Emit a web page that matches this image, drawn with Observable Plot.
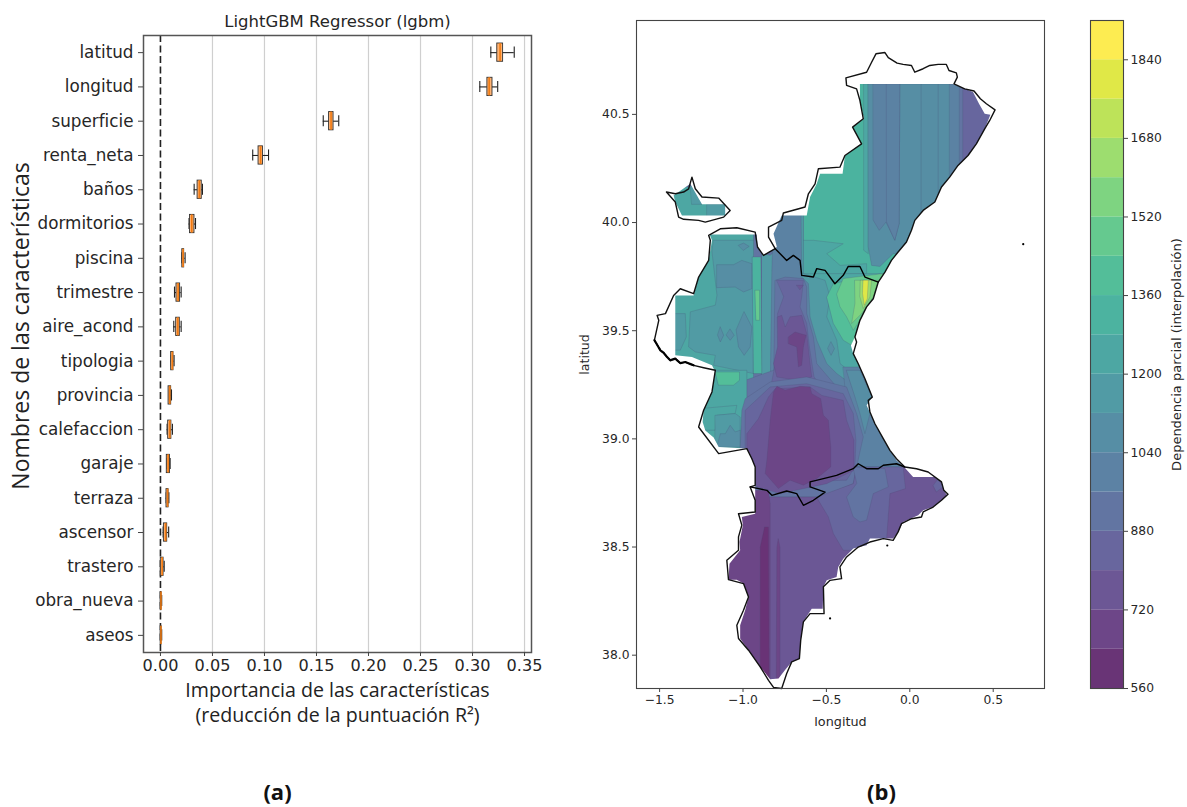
<!DOCTYPE html>
<html lang="es">
<head>
<meta charset="utf-8">
<title>LightGBM Regressor (lgbm)</title>
<script src="https://cdn.jsdelivr.net/npm/d3@7"></script>
<script src="https://cdn.jsdelivr.net/npm/@observablehq/plot@0.6"></script>
<style>
html,body{margin:0;padding:0;background:#fff;width:1187px;height:807px;overflow:hidden}
</style>
</head>
<body>
<script>
// ---------- panel (a): permutation importance ----------
const features = ["latitud","longitud","superficie","renta_neta","baños","dormitorios","piscina","trimestre","aire_acond","tipologia","provincia","calefaccion","garaje","terraza","ascensor","trastero","obra_nueva","aseos"];
const whiskLow  = [.3176,.307,.1565,.0887,.0324,.0275,.0205,.0135,.0128,.0103,.0078,.0064,.0061,.0055,.0026,0,0,0];
const q1        = [.3238,.3143,.1621,.0943,.0357,.0284,.021,.0154,.0151,.0103,.0078,.0074,.0061,.0058,.0033,.0003,.0002,.0002];
const medians   = [.3265,.316,.164,.0963,.0374,.0301,.0218,.017,.0167,.0115,.009,.009,.0074,.0069,.005,.0017,.0005,.0005];
const q3        = [.3294,.3192,.1664,.0986,.0397,.0327,.0228,.0189,.0186,.0125,.0103,.0105,.0091,.0078,.0065,.003,.001,.001];
const whiskHigh = [.3401,.3242,.1714,.1039,.0404,.0337,.0237,.0199,.0199,.0131,.0106,.0115,.0093,.0081,.0079,.0036,.0012,.0012];
const importanceTicks = [0,.05,.1,.15,.2,.25,.3,.35];

// ---------- panel (b): outline of the region (lon, lat) ----------
const outlineMain = [[-.203,40.78],[-.149,40.786],[-.129,40.762],[-.076,40.737],[-.04,40.731],[.01,40.726],[.03,40.695],[.08,40.711],[.12,40.726],[.17,40.731],[.219,40.731],[.235,40.703],[.279,40.692],[.285,40.672],[.265,40.641],[.329,40.618],[.385,40.608],[.423,40.572],[.459,40.549],[.511,40.521],[.479,40.472],[.449,40.433],[.399,40.364],[.349,40.31],[.289,40.264],[.239,40.21],[.19,40.164],[.15,40.095],[.08,40.056],[.03,40.01],[.01,39.964],[-.02,39.91],[-.07,39.864],[-.11,39.825],[-.149,39.771],[-.189,39.725],[-.219,39.648],[-.259,39.61],[-.299,39.548],[-.329,39.471],[-.319,39.448],[-.339,39.394],[-.309,39.347],[-.269,39.278],[-.225,39.193],[-.249,39.178],[-.239,39.124],[-.209,39.07],[-.159,39.001],[-.119,38.947],[-.08,38.908],[-.03,38.87],[.04,38.862],[.11,38.847],[.19,38.801],[.204,38.762],[.229,38.744],[.19,38.716],[.14,38.685],[.08,38.662],[.07,38.639],[.01,38.631],[-.05,38.608],[-.07,38.57],[-.1,38.531],[-.159,38.539],[-.239,38.523],[-.309,38.5],[-.379,38.454],[-.419,38.408],[-.409,38.354],[-.478,38.346],[-.518,38.316],[-.514,38.192],[-.598,38.192],[-.638,38.154],[-.654,38.069],[-.662,37.984],[-.708,37.969],[-.738,37.915],[-.768,37.846],[-.817,37.851],[-.847,37.884],[-.897,37.946],[-.967,38.023],[-1.027,38.077],[-1.037,38.138],[-.997,38.208],[-.967,38.269],[-.997,38.331],[-1.087,38.349],[-1.097,38.439],[-1.027,38.485],[-1.027,38.547],[-1.007,38.601],[-1.027,38.654],[-.927,38.662],[-.927,38.716],[-.957,38.778],[-.927,38.785],[-.927,38.87],[-.947,38.908],[-.977,38.955],[-1.146,38.932],[-1.266,39.055],[-1.236,39.132],[-1.186,39.217],[-1.166,39.317],[-1.236,39.329],[-1.296,39.34],[-1.346,39.355],[-1.376,39.35],[-1.406,39.371],[-1.436,39.363],[-1.455,39.378],[-1.475,39.397],[-1.495,39.409],[-1.531,39.456],[-1.505,39.548],[-1.515,39.571],[-1.465,39.579],[-1.416,39.663],[-1.376,39.694],[-1.296,39.671],[-1.266,39.748],[-1.206,39.825],[-1.196,39.918],[-1.206,39.941],[-1.136,39.971],[-1.037,39.976],[-.927,39.956],[-.913,39.887],[-.877,39.848],[-.807,39.879],[-.847,39.933],[-.847,39.979],[-.768,40.01],[-.758,40.044],[-.628,40.072],[-.608,40.133],[-.568,40.179],[-.548,40.249],[-.419,40.256],[-.389,40.31],[-.289,40.364],[-.343,40.441],[-.279,40.48],[-.299,40.564],[-.319,40.618],[-.379,40.634],[-.383,40.669],[-.259,40.695],[-.229,40.741]];
const outlineAdemuz = [[-1.459,40.141],[-1.406,40.133],[-1.356,40.141],[-1.326,40.156],[-1.306,40.21],[-1.286,40.156],[-1.246,40.118],[-1.146,40.113],[-1.077,40.056],[-1.116,40.025],[-1.226,40.002],[-1.266,40.01],[-1.356,40.015],[-1.386,40.025],[-1.406,40.095]];
const borderNorth = [[-.807,39.879],[-.738,39.825],[-.698,39.848],[-.658,39.825],[-.648,39.756],[-.578,39.748],[-.558,39.787],[-.508,39.779],[-.449,39.717],[-.399,39.756],[-.369,39.797],[-.299,39.797],[-.269,39.748],[-.189,39.725]];
const borderSouth = [[-.957,38.778],[-.857,38.762],[-.827,38.739],[-.738,38.759],[-.678,38.747],[-.638,38.693],[-.578,38.716],[-.508,38.754],[-.598,38.778],[-.598,38.801],[-.518,38.816],[-.439,38.831],[-.339,38.862],[-.309,38.885],[-.259,38.862],[-.189,38.862],[-.159,38.878],[-.08,38.885],[-.03,38.87]];
const roughCoast = [[-1.296,39.34],[-1.346,39.355],[-1.376,39.35],[-1.406,39.371],[-1.436,39.363],[-1.455,39.378],[-1.475,39.397],[-1.495,39.409],[-1.531,39.456]];
const islets = [[.68,39.9],[-.478,38.17],[-.135,38.507]];

// area actually covered by the interpolated surface
const surfaceMain = [[-.299,40.641],[.259,40.641],[.379,40.603],[.415,40.549],[.449,40.503],[.483,40.498],[.449,40.433],[.399,40.364],[.349,40.31],[.289,40.264],[.239,40.21],[.19,40.164],[.15,40.095],[.08,40.056],[.03,40.01],[.01,39.964],[-.02,39.91],[-.07,39.864],[-.11,39.825],[-.149,39.771],[-.189,39.725],[-.219,39.648],[-.259,39.61],[-.299,39.548],[-.329,39.471],[-.353,39.432],[-.339,39.394],[-.309,39.347],[-.269,39.278],[-.225,39.193],[-.259,39.155],[-.209,39.07],[-.159,39.001],[-.119,38.947],[-.08,38.901],[-.03,38.867],[.02,38.824],[.15,38.824],[.19,38.801],[.204,38.762],[.223,38.739],[.19,38.716],[.14,38.685],[.08,38.67],[.05,38.647],[-.04,38.616],[-.07,38.57],[-.1,38.539],[-.239,38.539],[-.259,38.508],[-.339,38.493],[-.399,38.446],[-.429,38.408],[-.439,38.362],[-.498,38.346],[-.518,38.316],[-.522,38.215],[-.588,38.215],[-.638,38.154],[-.654,38.069],[-.662,37.984],[-.708,37.969],[-.748,37.931],[-.787,37.892],[-.837,37.889],[-.897,37.946],[-.967,38.023],[-1.017,38.077],[-1.017,38.138],[-.987,38.208],[-.967,38.269],[-.997,38.331],[-1.037,38.349],[-1.087,38.349],[-1.081,38.423],[-1.017,38.485],[-1.021,38.523],[-1.001,38.601],[-1.007,38.639],[-.927,38.654],[-.927,38.87],[-.947,38.908],[-.977,38.955],[-1.146,38.962],[-1.176,39.006],[-1.226,39.039],[-1.242,39.078],[-1.236,39.132],[-1.186,39.217],[-1.166,39.309],[-1.186,39.34],[-1.306,39.378],[-1.406,39.386],[-1.406,39.663],[-1.296,39.663],[-1.266,39.748],[-1.206,39.825],[-1.186,39.918],[-1.2,39.945],[-.917,39.945],[-.913,39.887],[-.877,39.848],[-.797,39.887],[-.817,39.948],[-.768,40.033],[-.618,40.033],[-.598,40.118],[-.558,40.179],[-.538,40.226],[-.403,40.226],[-.389,40.31],[-.289,40.364],[-.343,40.441],[-.275,40.48],[-.299,40.564]];
const surfaceAdemuz = [[-1.416,40.125],[-1.316,40.179],[-1.246,40.084],[-1.107,40.084],[-1.107,40.033],[-1.366,40.033],[-1.406,40.095]];

// ---------- panel (b): contour levels ----------
const levels = [560,640,720,800,880,960,1040,1120,1200,1280,1360,1440,1520,1600,1680,1760,1840,1920];
const colorbarTicks = [560,720,880,1040,1200,1360,1520,1680,1840];

// painted in order: each region holds [partial-dependence value, ring of lon/lat]
const contourRegions = [
 [920,[[-1.7,37.8],[.6,37.8],[.6,41],[-1.7,41]]],
 [1320,[[-.638,40.703],[.578,40.703],[.578,39.702],[-.638,39.702]]],
 [1240,[[-1.436,40.164],[-.977,40.164],[-.977,40.01],[-1.436,40.01]]],
 [1160,[[-1.216,40.084],[-1.097,40.084],[-1.097,40.025],[-1.216,40.025]]],
 [1160,[[-1.316,40.172],[-1.286,40.156],[-1.246,40.084],[-1.306,40.084]]],
 [1240,[[-.275,40.641],[-.249,40.641],[-.249,39.856],[-.275,39.871]]],
 [1080,[[-.249,40.641],[.578,40.641],[.578,39.825],[-.1,39.856],[-.179,39.797],[-.229,39.802],[-.249,39.887]]],
 [1000,[[-.219,40.641],[-.06,40.641],[-.064,39.995],[-.09,39.918],[-.143,40.002],[-.183,39.964],[-.219,40.01]]],
 [1000,[[-.139,40.641],[-.06,40.641],[-.064,39.995],[-.09,39.918],[-.139,40.002]]],
 [1100,[[.07,40.641],[.17,40.641],[.17,40.072],[.07,40.025]]],
 [1000,[[.239,40.641],[.578,40.641],[.578,40.21],[.239,40.21]]],
 [920,[[.299,40.641],[.578,40.641],[.578,40.21],[.299,40.21]]],
 [840,[[.319,40.641],[.578,40.641],[.578,40.21],[.319,40.21]]],
 [1240,[[-.638,39.918],[-.578,39.918],[-.399,39.902],[-.498,39.856],[-.418,39.802],[-.259,39.81],[-.259,39.764],[-.638,39.756]]],
 [1240,[[-1.46,39.97],[-.937,39.97],[-.937,39.163],[-1.46,39.163]]],
 [1160,[[-1.176,39.918],[-.937,39.918],[-.937,39.302],[-1.176,39.34],[-1.166,39.386],[-1.286,39.402],[-1.326,39.425],[-1.316,39.587],[-1.166,39.618],[-1.156,39.664],[-1.186,39.864]]],
 [1160,[[-1.416,39.579],[-1.346,39.579],[-1.34,39.471],[-1.376,39.41],[-1.416,39.41]]],
 [1080,[[-1.156,39.805],[-1.057,39.805],[-1.007,39.825],[-.947,39.81],[-.947,39.694],[-.997,39.679],[-1.047,39.702],[-1.156,39.699]]],
 [1080,[[-.993,39.587],[-.947,39.517],[-.957,39.425],[-.993,39.386],[-1.027,39.425],[-1.041,39.502]]],
 [1080,[[-1.136,39.517],[-1.116,39.479],[-1.136,39.448],[-1.152,39.479]]],
 [1080,[[-1.077,39.507],[-1.053,39.479],[-1.077,39.456],[-1.1,39.479]]],
 [1080,[[-1.027,39.895],[-.997,39.905],[-.963,39.89],[-.997,39.872]]],
 [1240,[[-.638,39.764],[-.159,39.764],[-.159,39.163],[-.638,39.163]]],
 [1160,[[-.887,39.856],[-.837,39.849],[-.777,39.887],[-.817,40.056],[-.638,40.056],[-.638,39.764],[-.508,39.733],[-.478,39.656],[-.498,39.564],[-.438,39.456],[-.418,39.348],[-.319,39.286],[-.219,39.179],[-.887,39.179]]],
 [1320,[[-.943,39.841],[-.893,39.841],[-.887,39.302],[-.937,39.302]]],
 [1480,[[-.927,39.687],[-.901,39.687],[-.901,39.548],[-.921,39.548]]],
 [1000,[[-.827,39.779],[-.817,40.041],[-.652,40.041],[-.648,39.748],[-.608,39.718],[-.598,39.564],[-.558,39.456],[-.498,39.348],[-.438,39.302],[-.329,39.24],[-.319,39.179],[-1.037,39.179],[-1.027,39.256],[-.837,39.302]]],
 [920,[[-.807,39.733],[-.747,39.748],[-.638,39.741],[-.618,39.702],[-.618,39.579],[-.578,39.471],[-.558,39.348],[-.438,39.24],[-.379,39.179],[-1.007,39.179],[-.987,39.271],[-.817,39.317]]],
 [840,[[-.797,39.733],[-.638,39.733],[-.648,39.656],[-.658,39.61],[-.618,39.533],[-.602,39.425],[-.574,39.286],[-.498,39.209],[-.478,39.179],[-.817,39.179],[-.837,39.225],[-.807,39.348],[-.787,39.425],[-.793,39.579],[-.757,39.656]]],
 [760,[[-.793,39.564],[-.768,39.571],[-.747,39.517],[-.718,39.564],[-.648,39.571],[-.618,39.487],[-.598,39.348],[-.588,39.286],[-.678,39.271],[-.797,39.286],[-.817,39.348],[-.793,39.425]]],
 [680,[[-.728,39.471],[-.688,39.494],[-.622,39.479],[-.638,39.425],[-.648,39.34],[-.668,39.333],[-.678,39.425],[-.728,39.44]]],
 [760,[[-.678,39.71],[-.638,39.71],[-.658,39.69]]],
 [1400,[[-.498,39.656],[-.458,39.718],[-.159,39.764],[-.159,39.579],[-.319,39.471],[-.349,39.433],[-.399,39.456],[-.458,39.533]]],
 [1480,[[-.438,39.671],[-.399,39.741],[-.159,39.764],[-.159,39.625],[-.299,39.548],[-.339,39.502],[-.379,39.564],[-.418,39.61]]],
 [1560,[[-.329,39.733],[-.189,39.733],[-.219,39.656],[-.289,39.579],[-.349,39.533],[-.329,39.625]]],
 [1640,[[-.295,39.733],[-.229,39.733],[-.239,39.656],[-.279,39.602],[-.299,39.656]]],
 [1800,[[-.279,39.733],[-.249,39.733],[-.255,39.648],[-.273,39.618],[-.283,39.671]]],
 [1080,[[-.472,39.448],[-.452,39.417],[-.472,39.386],[-.492,39.417]]],
 [1240,[[-1.336,39.317],[-.977,39.317],[-.977,38.947],[-1.336,38.947]]],
 [1400,[[-1.166,39.309],[-1.021,39.309],[-1.021,39.271],[-1.057,39.248],[-1.146,39.248]]],
 [1240,[[-1.256,39.14],[-1.037,39.155],[-1.047,39.117],[-1.156,39.109],[-1.166,39.04],[-1.24,39.04]]],
 [1160,[[-1.166,39.109],[-1.047,39.117],[-1.017,39.101],[-1.017,38.963],[-1.166,38.963]]],
 [1080,[[-1.156,38.963],[-1.136,39.024],[-1.106,39.024],[-1.077,39.063],[-1.047,39.032],[-1.017,39.04],[-1.017,38.963]]],
 [1000,[[-.399,39.332],[-.299,39.332],[-.219,39.178],[-.159,39.001],[-.02,38.87],[-.339,38.87]]],
 [1090,[[-.329,39.194],[-.299,39.117],[-.269,39.024],[-.239,39.117],[-.219,39.178],[-.299,39.317],[-.379,39.317]]],
 [920,[[-1.017,38.955],[-1.007,39.132],[-.987,39.186],[-.837,39.263],[-.618,39.286],[-.379,39.24],[-.319,39.117],[-.279,39.009],[-.319,38.87],[-.329,38.732],[-1.017,38.732]]],
 [840,[[-.987,38.955],[-.987,39.132],[-.837,39.24],[-.618,39.255],[-.399,39.209],[-.339,39.117],[-.323,38.994],[-.329,38.87],[-.379,38.809],[-.987,38.793]]],
 [760,[[-.977,38.947],[-.977,39.024],[-.907,39.094],[-.847,39.194],[-.807,39.232],[-.598,39.24],[-.528,39.201],[-.399,39.178],[-.379,39.086],[-.335,38.994],[-.335,38.855],[-.498,38.793],[-.777,38.747],[-.917,38.778]]],
 [680,[[-.817,39.217],[-.797,39.243],[-.748,39.225],[-.658,39.243],[-.598,39.24],[-.588,39.209],[-.534,39.186],[-.518,39.109],[-.488,39.086],[-.474,38.963],[-.474,38.87],[-.558,38.817],[-.638,38.786],[-.718,38.809],[-.788,38.77],[-.867,38.84],[-.857,38.901],[-.837,39.086]]],
 [760,[[-1.116,38.731],[-.538,38.731],[-.339,38.793],[-.319,38.87],[.379,38.87],[.379,37.823],[-1.116,37.823]]],
 [840,[[-.558,38.731],[-.339,38.793],[-.319,38.87],[-.04,38.87],[-.026,38.77],[-.119,38.747],[-.139,38.539],[-.339,38.485],[-.399,38.485],[-.458,38.562],[-.488,38.639]]],
 [920,[[-.339,38.87],[-.149,38.862],[-.129,38.778],[-.219,38.747],[-.259,38.624],[-.299,38.616],[-.339,38.639],[-.379,38.731],[-.319,38.793]]],
 [840,[[.14,38.785],[.17,38.816],[.2,38.778],[.16,38.755]]],
 [680,[[-1.116,38.762],[-.847,38.762],[-.837,38.701],[-.837,37.869],[-1.116,37.869]]],
 [600,[[-.897,38.5],[-.871,38.593],[-.847,38.593],[-.843,37.869],[-.897,37.869]]],
 [680,[[-.801,37.869],[-.797,38.5],[-.789,38.539],[-.778,38.5],[-.778,37.869]]]
];

// ---------- helpers ----------
const DEJAVU = "'DejaVu Sans', sans-serif";
const HUMAN = "'Open Sans', sans-serif";
const boxes = features.map((name,i)=>({name,lo:whiskLow[i],q1:q1[i],med:medians[i],q3:q3[i],hi:whiskHigh[i]}));
const flatten = rings => rings.flatMap((ring,id)=>ring.map(([lon,lat])=>({id,lon,lat})));
const regionRows = contourRegions.flatMap(([value,ring],id)=>ring.map(([lon,lat])=>({id,value,lon,lat})));
const colorScale = {type:"threshold",domain:levels.slice(1,-1),scheme:"viridis"};
const place = (el,left)=>{el.style.position="absolute";el.style.left=left+"px";el.style.top="0";document.body.appendChild(el);};

// ---------- (a) ----------
const left = Plot.plot({
  width:570,height:807,marginLeft:143,marginRight:39,marginTop:35,marginBottom:155,
  style:{fontFamily:DEJAVU,fontSize:"16.3px",color:"#262626",background:"transparent"},
  x:{domain:[-.0163,.3567],label:null},
  y:{type:"band",domain:features,padding:0,round:false,label:null},
  marks:[
    Plot.gridX(importanceTicks.slice(1),{stroke:"#cfcfcf",strokeOpacity:1,strokeWidth:1.2}),
    Plot.ruleX([0],{stroke:"#222",strokeWidth:1.6,strokeDasharray:"7,3.5"}),
    Plot.ruleY(boxes,{y:"name",x1:"lo",x2:"hi",stroke:"#222",strokeWidth:1.1}),
    Plot.tickX(boxes,{x:"lo",y:"name",insetTop:11.6,insetBottom:11.6,stroke:"#222",strokeWidth:1.1}),
    Plot.tickX(boxes,{x:"hi",y:"name",insetTop:11.6,insetBottom:11.6,stroke:"#222",strokeWidth:1.1}),
    Plot.barX(boxes,{x1:"q1",x2:"q3",y:"name",insetTop:8,insetBottom:8,fill:"#ffb272",stroke:"#333",strokeWidth:.9}),
    Plot.tickX(boxes,{x:"med",y:"name",insetTop:8,insetBottom:8,stroke:"#f07a12",strokeWidth:1.6}),
    Plot.frame({stroke:"#555",strokeWidth:1.5}),
    Plot.axisX(importanceTicks,{tickSize:4,tickPadding:3,fontSize:16.1,tickFormat:d=>d3.format(".2f")(d),label:null,stroke:"#444"}),
    Plot.axisY({tickSize:5,tickPadding:5,fontSize:16.8,label:null,stroke:"#444"}),
    Plot.text(["LightGBM Regressor (lgbm)"],{frameAnchor:"top",dy:-20,fontFamily:DEJAVU,fontSize:16.5,fill:"#262626"}),
    Plot.text(["Importancia de las características"],{frameAnchor:"bottom",dy:44,fontFamily:HUMAN,fontSize:19.6,fill:"#222"}),
    Plot.text(["(reducción de la puntuación R²)"],{frameAnchor:"bottom",dy:69,fontFamily:HUMAN,fontSize:19.6,fill:"#222"}),
    Plot.text(["Nombres de las características"],{frameAnchor:"left",textAnchor:"middle",dx:-122,dy:-18,rotate:-90,fontFamily:HUMAN,fontSize:23,fill:"#222"}),
    Plot.text(["(a)"],{frameAnchor:"bottom",dx:-60,dy:147,fontFamily:HUMAN,fontWeight:"bold",fontSize:22,fill:"#111"})
  ]
});
place(left,0);

// ---------- (b) map ----------
function clippedSurface(index,scales,values,dimensions,context,next){
  const g = next(index,scales,values,dimensions,context);
  const ns = "http://www.w3.org/2000/svg";
  const clip = document.createElementNS(ns,"clipPath");
  clip.setAttribute("id","surface-mask");
  const path = document.createElementNS(ns,"path");
  path.setAttribute("d",[surfaceMain,surfaceAdemuz].map(r=>"M"+r.map(([a,b])=>scales.x(a)+","+scales.y(b)).join("L")+"Z").join(""));
  clip.appendChild(path);
  g.appendChild(clip);
  g.setAttribute("clip-path","url(#surface-mask)");
  g.setAttribute("opacity","0.8");
  return g;
}
const mapPlot = Plot.plot({
  width:480,height:807,marginLeft:66,marginRight:6,marginTop:20,marginBottom:119,
  style:{fontFamily:DEJAVU,fontSize:"12.3px",color:"#262626",background:"transparent"},
  x:{domain:[-1.6385,.8075],label:null},
  y:{domain:[37.846,40.934],label:null},
  color:colorScale,
  marks:[
    Plot.line(regionRows,{x:"lon",y:"lat",z:"id",fill:"value",stroke:"#1b1b4a",strokeOpacity:.2,strokeWidth:1,curve:"linear-closed",render:clippedSurface}),
    Plot.line(flatten([outlineMain,outlineAdemuz]),{x:"lon",y:"lat",z:"id",stroke:"#111",strokeWidth:1.4,curve:"linear-closed"}),
    Plot.line(flatten([borderNorth,borderSouth]),{x:"lon",y:"lat",z:"id",stroke:"#000",strokeWidth:1.4}),
    Plot.line(roughCoast,{x:"0",y:"1",stroke:"#000",strokeWidth:2.2,strokeDasharray:"4,1"}),
    Plot.dot(islets,{x:"0",y:"1",r:1.1,fill:"#000"}),
    Plot.frame({stroke:"#444",strokeWidth:1.1}),
    Plot.axisX([-1.5,-1,-.5,0,.5],{tickSize:4,tickPadding:3,tickFormat:d=>d3.format(".1f")(d),label:null,stroke:"#444"}),
    Plot.axisY([38,38.5,39,39.5,40,40.5],{tickSize:4,tickPadding:3,tickFormat:d=>d3.format(".1f")(d),label:null,stroke:"#444"}),
    Plot.text(["longitud"],{frameAnchor:"bottom",dy:37,fontFamily:DEJAVU,fontSize:12.8,fill:"#262626"}),
    Plot.text(["latitud"],{frameAnchor:"left",textAnchor:"middle",dx:-52,rotate:-90,fontFamily:DEJAVU,fontSize:12.5,fill:"#262626"}),
    Plot.text(["(b)"],{frameAnchor:"bottom",dx:41,dy:111,fontFamily:HUMAN,fontWeight:"bold",fontSize:22,fill:"#111"})
  ]
});
place(mapPlot,570);

// ---------- (b) colour bar ----------
const bands = d3.pairs(levels).map(([lo,hi])=>({lo,hi}));
const bar = Plot.plot({
  width:137,height:807,marginLeft:40,marginRight:64,marginTop:20,marginBottom:119,
  style:{fontFamily:DEJAVU,fontSize:"12.3px",color:"#262626",background:"transparent"},
  x:{domain:[0,1],axis:null},
  y:{domain:[560,1920],label:null},
  color:colorScale,
  marks:[
    Plot.rectY(bands,{x1:()=>0,x2:()=>1,y1:"lo",y2:"hi",fill:"lo",opacity:.8}),
    Plot.frame({stroke:"#444",strokeWidth:1.1}),
    Plot.axisY(colorbarTicks,{anchor:"right",tickSize:4,tickPadding:3,label:null,tickFormat:d=>String(d),stroke:"#444"}),
    Plot.text(["Dependencia parcial (interpolación)"],{frameAnchor:"right",textAnchor:"middle",dx:53,rotate:-90,fontFamily:DEJAVU,fontSize:13,fill:"#262626"})
  ]
});
place(bar,1050);
</script>
</body>
</html>
